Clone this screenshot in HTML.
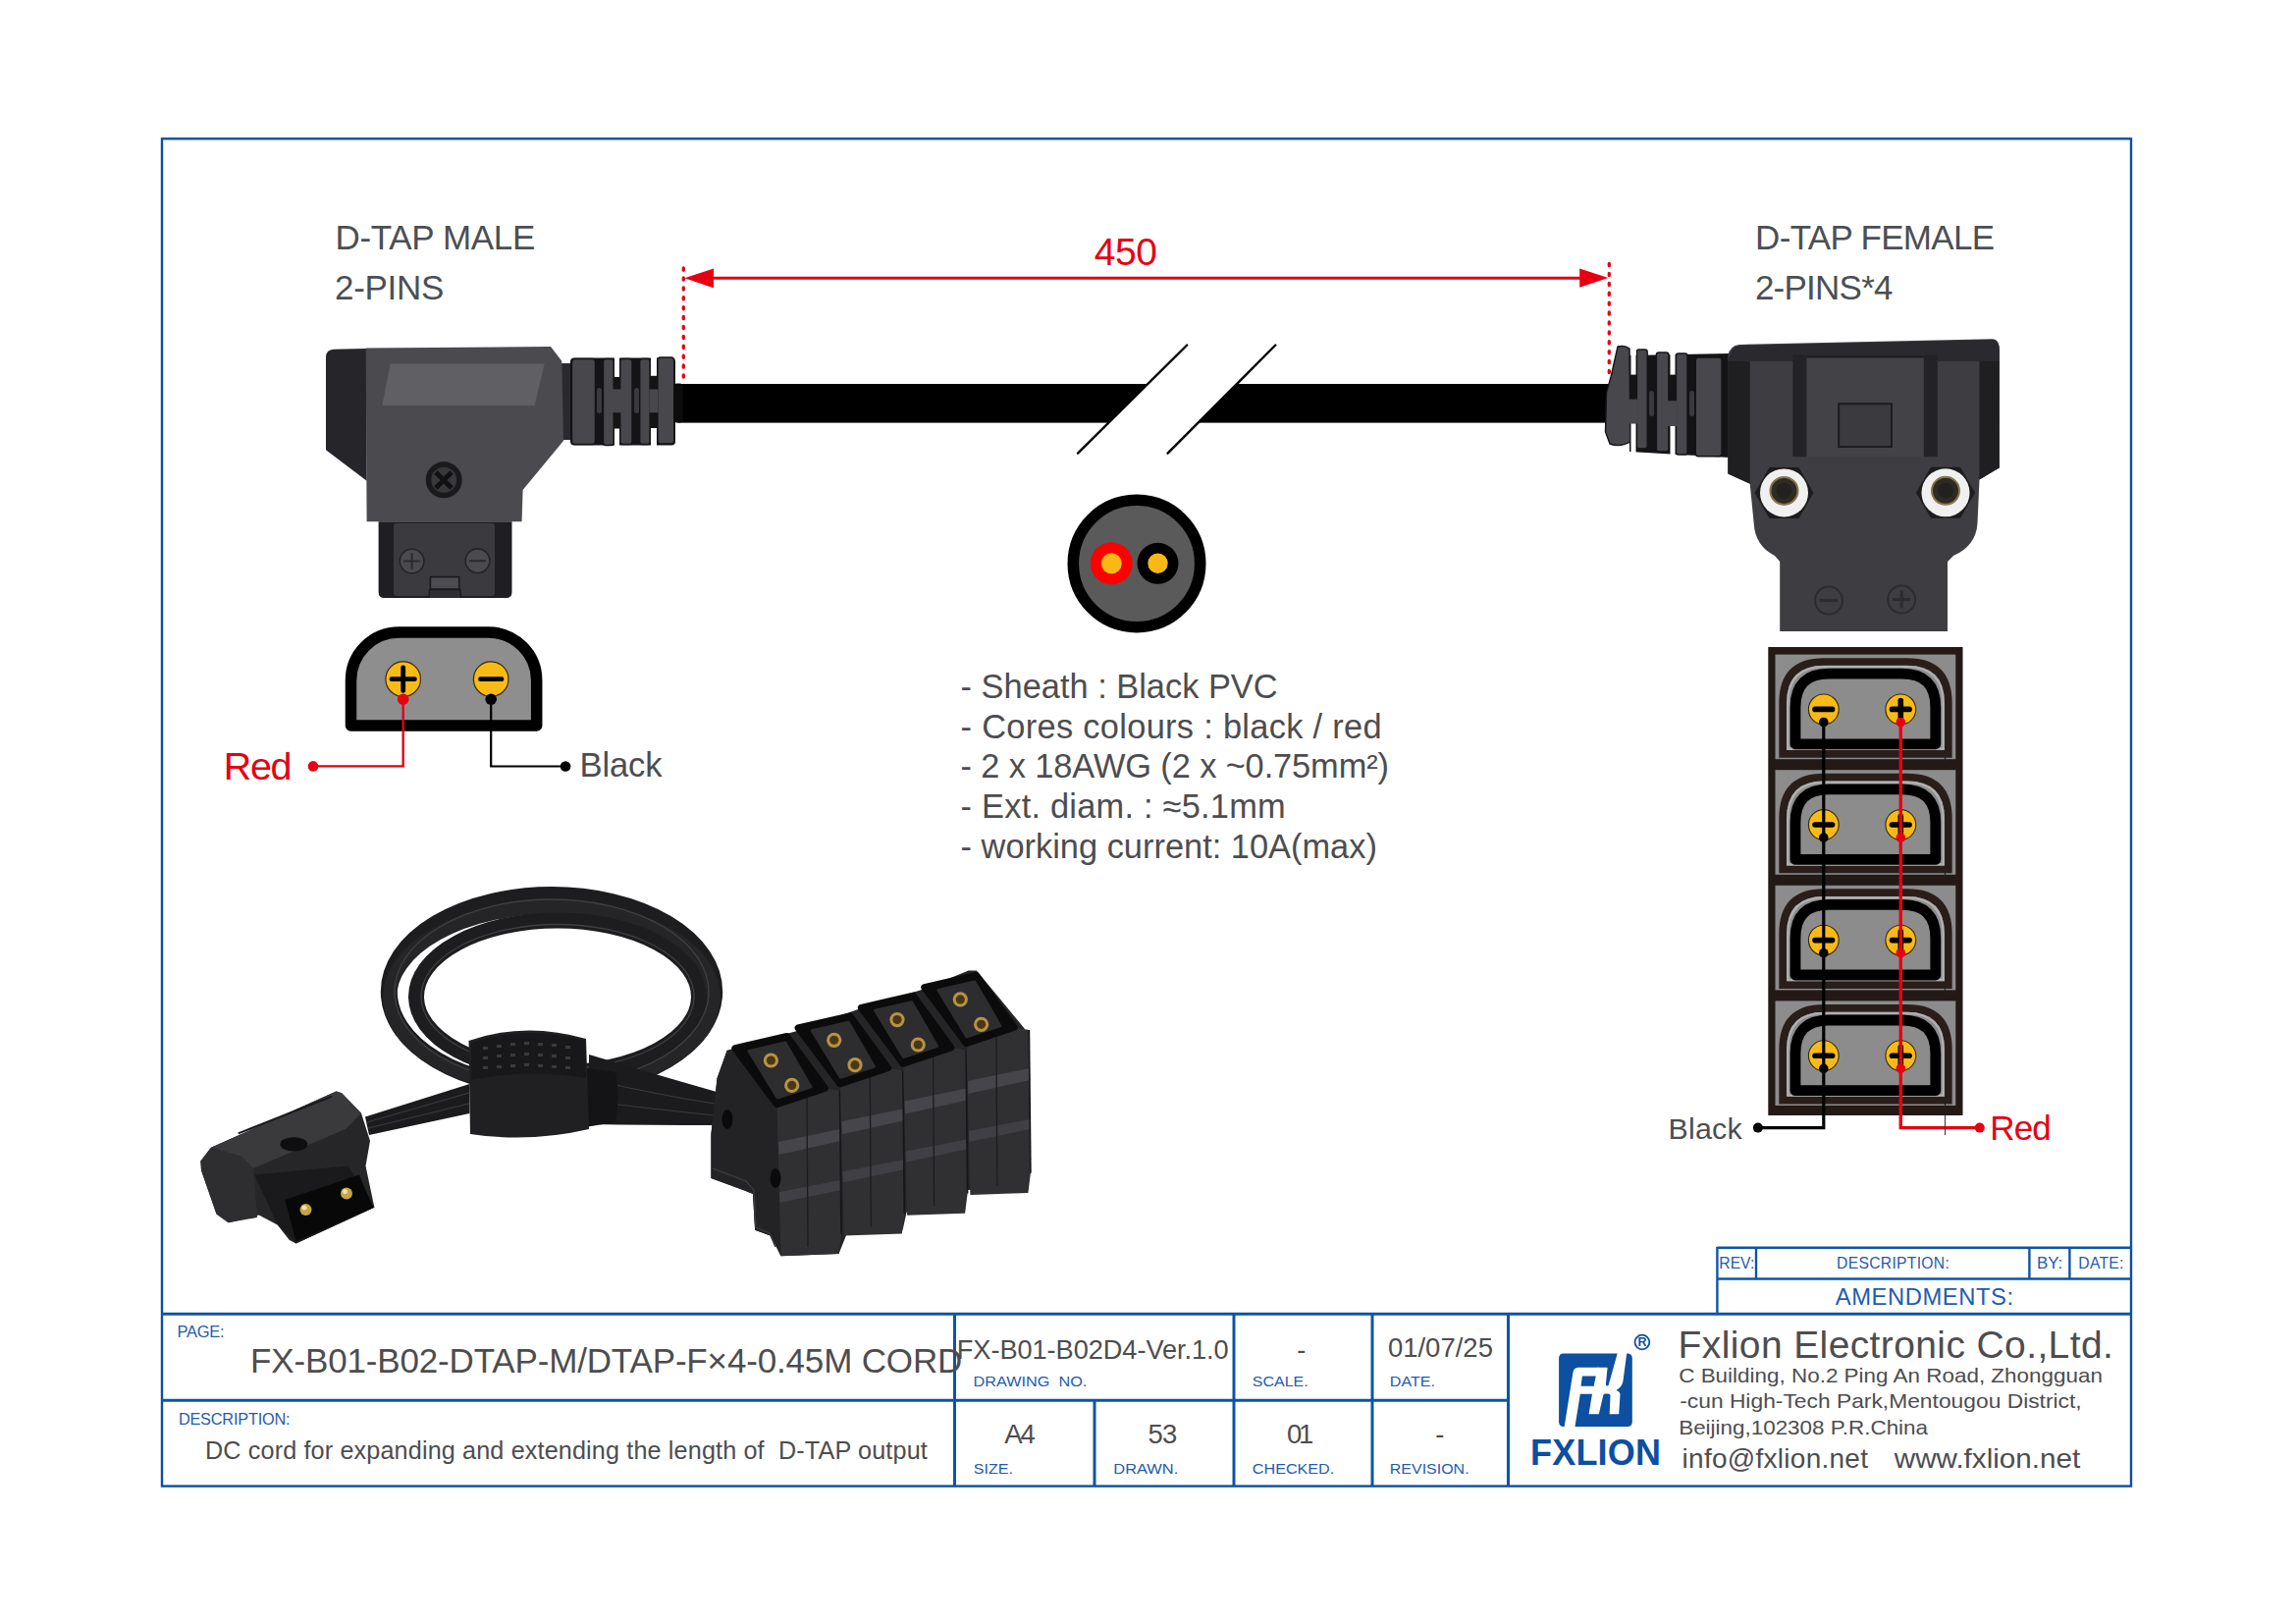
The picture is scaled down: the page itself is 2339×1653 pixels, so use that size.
<!DOCTYPE html>
<html><head><meta charset="utf-8">
<style>
html,body{margin:0;padding:0;background:#fff;}
body{width:2339px;height:1653px;overflow:hidden;position:relative;}
svg{position:absolute;left:0;top:0;}
text{font-family:"Liberation Sans",sans-serif;}
</style></head>
<body>
<svg width="2339" height="1653" viewBox="0 0 2339 1653">
<rect x="0" y="0" width="2339" height="1653" fill="#fff"/>
<!-- ===== FRAME ===== -->
<rect x="165" y="141.3" width="2006" height="1372.3" fill="none" stroke="#0c50a0" stroke-width="2.4"/>

<!-- ===== TITLE BLOCK ===== -->
<g fill="none" stroke="#0c55a6" stroke-width="3">
  <line x1="164" y1="1338.2" x2="2172" y2="1338.2"/>
  <line x1="164" y1="1426.2" x2="1537" y2="1426.2"/>
  <line x1="972.5" y1="1338" x2="972.5" y2="1514"/>
  <line x1="1115" y1="1426" x2="1115" y2="1514"/>
  <line x1="1257" y1="1338" x2="1257" y2="1514"/>
  <line x1="1398" y1="1338" x2="1398" y2="1514"/>
  <line x1="1536.5" y1="1338" x2="1536.5" y2="1514"/>
</g>
<g fill="none" stroke="#0c55a6" stroke-width="2.4">
  <line x1="1749.4" y1="1270.8" x2="2172" y2="1270.8"/>
  <line x1="1749.4" y1="1302.5" x2="2172" y2="1302.5"/>
  <line x1="1749.4" y1="1270" x2="1749.4" y2="1338"/>
  <line x1="1789" y1="1270" x2="1789" y2="1302.5"/>
  <line x1="2067.4" y1="1270" x2="2067.4" y2="1302.5"/>
  <line x1="2108.4" y1="1270" x2="2108.4" y2="1302.5"/>
</g>

<!-- FX logo -->
<g>
  <rect x="1588.1" y="1378.5" width="74.7" height="74.5" rx="4.5" fill="#0d4fa0"/>
  <path d="M1593.6,1453.5 L1604.4,1453.5 L1609.8,1419.8 L1626.1,1419.8 L1627.5,1411.7 L1610.5,1411.7 L1611.9,1401.5 L1626.2,1401.5 L1628.8,1392.7 L1607.6,1392.7 Q1603,1393 1602.4,1398 Z" fill="#fff"/>
  <path d="M1627.5,1392.7 L1637.6,1392.7 L1635.8,1410.5 Q1637,1412 1638.6,1411 L1647.8,1378 L1657.3,1378 L1653.4,1407 Q1652,1413 1646.4,1416.1 Q1650.5,1417.5 1650.5,1420.5 L1649.2,1440.2 L1639.7,1440.2 L1640.5,1421 Q1640,1419.5 1638.5,1419.5 L1635,1419.5 Q1633.6,1419.8 1633.3,1421 L1628.8,1440.2 L1618.6,1440.2 L1622,1419.5 Q1623,1417 1626.8,1416.1 Q1623.5,1414.5 1623.8,1411 Z" fill="#fff"/>
  <circle cx="1672.9" cy="1367" r="7.4" fill="none" stroke="#0d4fa0" stroke-width="1.8"/>
  <text x="1672.9" y="1371.3" font-size="12.5" font-weight="bold" fill="#0d4fa0" text-anchor="middle">R</text>
</g>

<!-- ===== DIMENSION ===== -->
<g stroke="#e60012" fill="none">
  <line x1="726" y1="283.3" x2="1610" y2="283.3" stroke-width="3"/>
</g>
<polygon points="697.3,283.3 727,273.4 727,293.2" fill="#e60012"/>
<polygon points="1638.4,283.1 1609.2,273.6 1609.2,292.8" fill="#e60012"/>

<!-- ===== CABLE ===== -->
<rect x="690" y="391" width="950" height="39.6" fill="#000"/>
<polygon points="1098,461.7 1209.2,351.5 1299.3,351.5 1189.6,461.7" fill="#fff"/>
<g stroke="#000" stroke-width="2.4" stroke-linecap="round">
  <line x1="1098" y1="461.7" x2="1209.2" y2="351.5"/>
  <line x1="1189.6" y1="461.7" x2="1299.3" y2="351.5"/>
</g>

<!-- ===== LEFT CONNECTOR (male) ===== -->
<g>
  <!-- strain relief -->
  <rect x="572" y="370" width="12" height="78" fill="#2a2a2e"/>
  <rect x="581" y="364.5" width="107" height="89" rx="4" fill="#141416"/>
  <rect x="608" y="395" width="5" height="26" rx="2.5" fill="#3a3a3e"/>
  <rect x="646" y="395" width="5" height="26" rx="2.5" fill="#3a3a3e"/>
  <g fill="#47474c" stroke="#141416" stroke-width="1.4">
    <rect x="582.5" y="365.5" width="24" height="87" rx="3"/>
    <rect x="614.5" y="365.5" width="10.7" height="88" rx="2.5"/>
    <rect x="631.7" y="365.5" width="12.3" height="87" rx="2.5"/>
    <rect x="651.7" y="365.5" width="10.4" height="87" rx="2.5"/>
    <rect x="669.9" y="364" width="16.8" height="88" rx="3"/>
  </g>
  <rect x="624" y="396.4" width="9" height="23.9" fill="#47474c"/>
  <rect x="661.4" y="396.4" width="9.2" height="23.9" fill="#47474c"/>
  <rect x="626" y="363" width="5" height="21" fill="#fff"/>
  <rect x="626" y="436.5" width="5" height="19" fill="#fff"/>
  <rect x="663" y="363" width="6" height="19.8" fill="#fff"/>
  <rect x="663" y="436" width="6" height="19" fill="#fff"/>
  <rect x="686.5" y="390.6" width="9" height="40" rx="3" fill="#0c0c0d"/>
  <!-- left side face -->
  <path d="M340,355.7 L373,355 L373.6,489.7 L332,458.3 L332,364 Q332,356 340,355.7 Z" fill="#26262a"/>
  <!-- main face -->
  <path d="M372.7,354.5 L561,353 L572.3,367.7 L574,449 L532.6,499 L531.6,531.3 L373.6,531.3 Z" fill="#4a4a4f"/>
  <!-- label -->
  <polygon points="397.6,370.5 554.8,370.5 544.6,413 389.3,413" fill="#5f5f64"/>
  <!-- screw -->
  <circle cx="452.2" cy="488.8" r="18.5" fill="#1a1a1c"/>
  <circle cx="452.2" cy="488.8" r="13" fill="#38383c"/>
  <path d="M444,481 L460,497 M460,481 L444,497" stroke="#111" stroke-width="5"/>
  <!-- plug -->
  <path d="M385.6,531.3 L521.5,531.3 L521.5,603 Q521.5,609 515.5,609 L391.6,609 Q385.6,609 385.6,603 Z" fill="#1f1f23"/>
  <rect x="401" y="533" width="103" height="74" rx="3" fill="#3a3a3f"/>
  <circle cx="419.6" cy="571.6" r="12.3" fill="#4a4a50" stroke="#242428" stroke-width="1.6"/>
  <circle cx="486.5" cy="571.2" r="12.3" fill="#4a4a50" stroke="#242428" stroke-width="1.6"/>
  <path d="M411,571.6 L428,571.6 M419.6,563 L419.6,580 M478,571.2 L495,571.2" stroke="#2a2a2e" stroke-width="2"/>
  <rect x="438.4" y="587.6" width="29.3" height="12.5" fill="#4c4c52" stroke="#1a1a1e" stroke-width="1.6"/>
  <path d="M437,609 L437.5,600.5 L469,600.5 L469.5,609" fill="#2e2e33" stroke="#1a1a1e" stroke-width="1.4"/>
</g>

<!-- ===== RIGHT CONNECTOR (female) ===== -->
<g>
  <!-- strain relief -->
  <path d="M1660,362 L1762,360 L1762,466 L1660,460 Z" fill="#141416"/>
  <rect x="1680" y="398" width="5" height="26" rx="2.5" fill="#3a3a3e"/>
  <rect x="1721" y="398" width="5" height="26" rx="2.5" fill="#3a3a3e"/>
  <g fill="#47474c" stroke="#141416" stroke-width="1.4">
    <path d="M1648,353 Q1655,351 1660,355 L1661,450 Q1650,456 1640,452 L1635.5,440 L1636.5,400 L1641,384 Z"/>
    <rect x="1667.4" y="356" width="10.8" height="101" rx="2.5"/>
    <rect x="1687.4" y="359" width="12.5" height="101" rx="2.5"/>
    <rect x="1707.4" y="360" width="11.6" height="103" rx="2.5"/>
    <rect x="1727.3" y="364" width="26.7" height="100.8" rx="3"/>
  </g>
  <rect x="1659" y="406.6" width="9.4" height="24.9" fill="#47474c"/>
  <rect x="1699" y="408.2" width="9.4" height="25.8" fill="#47474c"/>
  <rect x="1661.5" y="350" width="5" height="31.6" fill="#fff"/>
  <rect x="1661.5" y="431.5" width="5" height="36" fill="#fff"/>
  <rect x="1701.5" y="350" width="5" height="31.6" fill="#fff"/>
  <rect x="1701.5" y="434" width="5" height="36" fill="#fff"/>
  <!-- body -->
  <path d="M1760.3,362.5 Q1762,352 1772,351 L2030,345.2 Q2037,346 2037,356 L2036.8,476.4 L2016.5,488.6 L2014.5,533 Q2013,556 1990,566 L1984,572 L1984,643 L1813.2,643 L1813.2,572 L1808,566 Q1788,556 1786.7,533 L1782.7,492.7 L1760.3,482.5 Z" fill="#3e3e42"/>
  <path d="M1760.3,367.6 L1782.7,367.6 L1782.7,492.7 L1760.3,482.5 Z" fill="#1f1f22"/>
  <path d="M2016.5,367.6 L2036.8,367.6 L2036.8,476.4 L2016.5,488.6 Z" fill="#1f1f22"/>
  <path d="M1762,362 Q1764,353 1772,352 L2030,346 Q2036,347 2036.8,356 L2036.8,368 L1760.3,368 Z" fill="#2a2a2e"/>
  <rect x="1826.4" y="361.5" width="14.2" height="103.7" fill="#232326"/>
  <rect x="1959.6" y="361.5" width="14.2" height="103.7" fill="#232326"/>
  <rect x="1840.6" y="361.5" width="119" height="103.7" fill="#434347"/>
  <rect x="1840.6" y="361.5" width="119" height="3" fill="#1f1f22"/>
  <rect x="1873.2" y="411.3" width="53.8" height="43.7" fill="#3b3b3f" stroke="#1c1c1e" stroke-width="2"/>
  <!-- hex nuts -->
  <polygon points="1787.5,501.9 1802.5,475.9 1832.5,475.9 1847.5,501.9 1832.5,527.9 1802.5,527.9" fill="#1c1c1e"/>
  <circle cx="1817.5" cy="501.9" r="24.5" fill="#f0f0f0"/>
  <circle cx="1817.5" cy="499.9" r="14" fill="#2e2a24" stroke="#8a7448" stroke-width="2"/>
  <circle cx="1817.5" cy="499.9" r="8" fill="#232120"/>
  <polygon points="1952.0,501.8 1967.0,475.8 1997.0,475.8 2012.0,501.8 1997.0,527.8 1967.0,527.8" fill="#1c1c1e"/>
  <circle cx="1982" cy="501.8" r="24.5" fill="#f0f0f0"/>
  <circle cx="1982" cy="499.8" r="14" fill="#2e2a24" stroke="#8a7448" stroke-width="2"/>
  <circle cx="1982" cy="499.8" r="8" fill="#232120"/>
  <!-- lower symbols -->
  <circle cx="1863" cy="611.6" r="14" fill="none" stroke="#2c2c30" stroke-width="2"/>
  <line x1="1854" y1="611.6" x2="1872" y2="611.6" stroke="#2c2c30" stroke-width="3"/>
  <circle cx="1937.2" cy="610.6" r="14" fill="none" stroke="#2c2c30" stroke-width="2"/>
  <path d="M1928,610.6 L1946,610.6 M1937.2,601.6 L1937.2,619.6" stroke="#2c2c30" stroke-width="3"/>
</g>

<g stroke="#e60012" fill="none">
  <line x1="696.3" y1="273" x2="696.3" y2="386" stroke-width="3.3" stroke-dasharray="2.2 7.7" stroke-linecap="round"/>
  <line x1="1639.3" y1="268.5" x2="1639.3" y2="381" stroke-width="3.3" stroke-dasharray="2.2 7.7" stroke-linecap="round"/>
</g>
<!-- ===== MALE PIN DIAGRAM ===== -->
<g>
  <path d="M357.5,739 L357.5,693 A49,49 0 0 1 406.5,644 L497.7,644 A49,49 0 0 1 546.7,693 L546.7,739 Z" fill="#8e8e8e" stroke="#000" stroke-width="11.5" stroke-linejoin="round"/>
  <circle cx="410.7" cy="691.7" r="17.8" fill="#f8bb16" stroke="#3a2c00" stroke-width="1.2"/>
  <circle cx="500.2" cy="691.7" r="17.8" fill="#f8bb16" stroke="#3a2c00" stroke-width="1.2"/>
  <path d="M399,691.7 L422.4,691.7 M410.7,680 L410.7,703.4" stroke="#000" stroke-width="4.8" stroke-linecap="round"/>
  <path d="M489.5,691.7 L511,691.7" stroke="#000" stroke-width="4.8" stroke-linecap="round"/>
  <polyline points="410.7,712.2 410.7,780.4 319,780.4" fill="none" stroke="#e60012" stroke-width="2.4"/>
  <polyline points="500.2,712.2 500.2,780.5 576.1,780.5" fill="none" stroke="#000" stroke-width="2.2"/>
  <circle cx="410.7" cy="712.2" r="5.8" fill="#e60012"/>
  <circle cx="319" cy="780.4" r="5.3" fill="#e60012"/>
  <circle cx="500.2" cy="712.2" r="5.8" fill="#000"/>
  <circle cx="576.1" cy="780.5" r="5.3" fill="#000"/>
</g>

<!-- ===== CROSS SECTION ===== -->
<g>
  <circle cx="1158" cy="574" r="64.7" fill="#5a5a5a" stroke="#000" stroke-width="11.6"/>
  <circle cx="1132.3" cy="573.8" r="21.5" fill="#f00"/>
  <circle cx="1132.3" cy="573.8" r="10.5" fill="#f8b914"/>
  <circle cx="1179.5" cy="573.8" r="21" fill="#000"/>
  <circle cx="1179.5" cy="573.8" r="10.2" fill="#f8b914"/>
</g>

<!-- ===== FEMALE PIN STACK ===== -->
<g id="stack">
  <rect x="1801.3" y="659" width="198.2" height="477" fill="#231916"/>
  <!-- cells generated -->
  <rect x="1808.5" y="666.6" width="183.8" height="106.6" fill="#8c8c8c"/>
<path d="M1816.2,767.9 L1816.2,716.0 Q1816.2,674.0 1858.2,674.0 L1942.8,674.0 Q1984.8,674.0 1984.8,716.0 L1984.8,767.9 Z" fill="none" stroke="#2a1e1b" stroke-width="7.7"/>
<path d="M1821.3,762.8000000000001 L1821.3,716.1 Q1821.3,679.1 1858.3,679.1 L1942.7,679.1 Q1979.7,679.1 1979.7,716.1 L1979.7,762.8000000000001 Z" fill="none" stroke="#b0b0b0" stroke-width="2.4"/>
<path d="M1829,757.8000000000001 L1829,720.2 Q1829,686.2 1863,686.2 L1937.8,686.2 Q1971.8,686.2 1971.8,720.2 L1971.8,757.8000000000001 Z" fill="#8c8c8c" stroke="#000" stroke-width="10.8" stroke-linejoin="round"/>
<circle cx="1857.8" cy="722.4" r="15.4" fill="#f8bb16" stroke="#3a2c00" stroke-width="1.1"/>
<line x1="1849.0" y1="722.4" x2="1866.6" y2="722.4" stroke="#000" stroke-width="5.6" stroke-linecap="round"/>
<circle cx="1936.3" cy="722.4" r="15.4" fill="#f8bb16" stroke="#3a2c00" stroke-width="1.1"/>
<line x1="1927.5" y1="722.4" x2="1945.1" y2="722.4" stroke="#000" stroke-width="5.6" stroke-linecap="round"/>
<line x1="1936.3" y1="713.6" x2="1936.3" y2="731.2" stroke="#000" stroke-width="5.6" stroke-linecap="round"/>
<circle cx="1857.8" cy="735.5" r="4.8" fill="#000"/>
<circle cx="1936.3" cy="735.5" r="4.8" fill="#e60012"/>
<line x1="1981.5" y1="764.6" x2="1981.5" y2="776.6" stroke="#222" stroke-width="1.2"/>
<rect x="1808.5" y="784.2" width="183.8" height="106.6" fill="#8c8c8c"/>
<path d="M1816.2,885.5 L1816.2,833.6 Q1816.2,791.6 1858.2,791.6 L1942.8,791.6 Q1984.8,791.6 1984.8,833.6 L1984.8,885.5 Z" fill="none" stroke="#2a1e1b" stroke-width="7.7"/>
<path d="M1821.3,880.4000000000001 L1821.3,833.7 Q1821.3,796.7 1858.3,796.7 L1942.7,796.7 Q1979.7,796.7 1979.7,833.7 L1979.7,880.4000000000001 Z" fill="none" stroke="#b0b0b0" stroke-width="2.4"/>
<path d="M1829,875.4000000000001 L1829,837.8000000000001 Q1829,803.8000000000001 1863,803.8000000000001 L1937.8,803.8000000000001 Q1971.8,803.8000000000001 1971.8,837.8000000000001 L1971.8,875.4000000000001 Z" fill="#8c8c8c" stroke="#000" stroke-width="10.8" stroke-linejoin="round"/>
<circle cx="1857.8" cy="840.0" r="15.4" fill="#f8bb16" stroke="#3a2c00" stroke-width="1.1"/>
<line x1="1849.0" y1="840.0" x2="1866.6" y2="840.0" stroke="#000" stroke-width="5.6" stroke-linecap="round"/>
<circle cx="1936.3" cy="840.0" r="15.4" fill="#f8bb16" stroke="#3a2c00" stroke-width="1.1"/>
<line x1="1927.5" y1="840.0" x2="1945.1" y2="840.0" stroke="#000" stroke-width="5.6" stroke-linecap="round"/>
<line x1="1936.3" y1="831.2" x2="1936.3" y2="848.8" stroke="#000" stroke-width="5.6" stroke-linecap="round"/>
<circle cx="1857.8" cy="853.1" r="4.8" fill="#000"/>
<circle cx="1936.3" cy="853.1" r="4.8" fill="#e60012"/>
<line x1="1981.5" y1="882.2" x2="1981.5" y2="894.2" stroke="#222" stroke-width="1.2"/>
<rect x="1808.5" y="901.8" width="183.8" height="106.6" fill="#8c8c8c"/>
<path d="M1816.2,1003.0999999999999 L1816.2,951.1999999999999 Q1816.2,909.1999999999999 1858.2,909.1999999999999 L1942.8,909.1999999999999 Q1984.8,909.1999999999999 1984.8,951.1999999999999 L1984.8,1003.0999999999999 Z" fill="none" stroke="#2a1e1b" stroke-width="7.7"/>
<path d="M1821.3,998.0 L1821.3,951.3 Q1821.3,914.3 1858.3,914.3 L1942.7,914.3 Q1979.7,914.3 1979.7,951.3 L1979.7,998.0 Z" fill="none" stroke="#b0b0b0" stroke-width="2.4"/>
<path d="M1829,993.0 L1829,955.4 Q1829,921.4 1863,921.4 L1937.8,921.4 Q1971.8,921.4 1971.8,955.4 L1971.8,993.0 Z" fill="#8c8c8c" stroke="#000" stroke-width="10.8" stroke-linejoin="round"/>
<circle cx="1857.8" cy="957.6" r="15.4" fill="#f8bb16" stroke="#3a2c00" stroke-width="1.1"/>
<line x1="1849.0" y1="957.6" x2="1866.6" y2="957.6" stroke="#000" stroke-width="5.6" stroke-linecap="round"/>
<circle cx="1936.3" cy="957.6" r="15.4" fill="#f8bb16" stroke="#3a2c00" stroke-width="1.1"/>
<line x1="1927.5" y1="957.6" x2="1945.1" y2="957.6" stroke="#000" stroke-width="5.6" stroke-linecap="round"/>
<line x1="1936.3" y1="948.8" x2="1936.3" y2="966.4" stroke="#000" stroke-width="5.6" stroke-linecap="round"/>
<circle cx="1857.8" cy="970.7" r="4.8" fill="#000"/>
<circle cx="1936.3" cy="970.7" r="4.8" fill="#e60012"/>
<line x1="1981.5" y1="999.8" x2="1981.5" y2="1011.8" stroke="#222" stroke-width="1.2"/>
<rect x="1808.5" y="1019.4" width="183.8" height="106.6" fill="#8c8c8c"/>
<path d="M1816.2,1120.7 L1816.2,1068.8 Q1816.2,1026.8 1858.2,1026.8 L1942.8,1026.8 Q1984.8,1026.8 1984.8,1068.8 L1984.8,1120.7 Z" fill="none" stroke="#2a1e1b" stroke-width="7.7"/>
<path d="M1821.3,1115.6 L1821.3,1068.9 Q1821.3,1031.9 1858.3,1031.9 L1942.7,1031.9 Q1979.7,1031.9 1979.7,1068.9 L1979.7,1115.6 Z" fill="none" stroke="#b0b0b0" stroke-width="2.4"/>
<path d="M1829,1110.6 L1829,1073.0 Q1829,1039.0 1863,1039.0 L1937.8,1039.0 Q1971.8,1039.0 1971.8,1073.0 L1971.8,1110.6 Z" fill="#8c8c8c" stroke="#000" stroke-width="10.8" stroke-linejoin="round"/>
<circle cx="1857.8" cy="1075.2" r="15.4" fill="#f8bb16" stroke="#3a2c00" stroke-width="1.1"/>
<line x1="1849.0" y1="1075.2" x2="1866.6" y2="1075.2" stroke="#000" stroke-width="5.6" stroke-linecap="round"/>
<circle cx="1936.3" cy="1075.2" r="15.4" fill="#f8bb16" stroke="#3a2c00" stroke-width="1.1"/>
<line x1="1927.5" y1="1075.2" x2="1945.1" y2="1075.2" stroke="#000" stroke-width="5.6" stroke-linecap="round"/>
<line x1="1936.3" y1="1066.4" x2="1936.3" y2="1084.0" stroke="#000" stroke-width="5.6" stroke-linecap="round"/>
<circle cx="1857.8" cy="1088.3" r="4.8" fill="#000"/>
<circle cx="1936.3" cy="1088.3" r="4.8" fill="#e60012"/>
<line x1="1981.5" y1="1117.4" x2="1981.5" y2="1129.4" stroke="#222" stroke-width="1.2"/>
  <polyline points="1857.8,735.5 1857.8,1148.6 1790.9,1148.6" fill="none" stroke="#000" stroke-width="3.2"/>
  <polyline points="1936.3,735.5 1936.3,1148.6 2016.8,1148.6" fill="none" stroke="#e60012" stroke-width="3.4"/>
  <circle cx="1790.9" cy="1148.6" r="5" fill="#000"/>
  <circle cx="2016.8" cy="1148.6" r="5" fill="#e60012"/>
  <line x1="1981.5" y1="1136" x2="1981.5" y2="1156" stroke="#333" stroke-width="1"/>
</g>

<!-- ===== PHOTO ===== -->
<g id="photo">
  <!-- cable loop -->
<ellipse cx="562" cy="1010" rx="165.7" ry="98.4" fill="none" stroke="#1d1d1f" stroke-width="17"/>
<ellipse cx="562" cy="1016" rx="165" ry="92" fill="none" stroke="#252527" stroke-width="14"/>
<ellipse cx="568" cy="1015" rx="144" ry="77.5" fill="none" stroke="#1d1d1f" stroke-width="16"/>
<ellipse cx="562" cy="1010" rx="160" ry="94" fill="none" stroke="#404044" stroke-width="1.3"/>
<ellipse cx="568" cy="1015" rx="139" ry="73.5" fill="none" stroke="#404044" stroke-width="1.3"/>
<!-- cables to male connector -->
<path d="M372,1137.5 L478.4,1104 L478.4,1134 L376,1156 Z" fill="#1b1b1d"/>
<path d="M374,1143 L478,1113 M375,1149 L478,1124" stroke="#3c3c40" stroke-width="1.2"/>
<!-- cables to female block -->
<path d="M600,1074 Q660,1092 730,1112 L730,1146 Q660,1146 600,1145 Z" fill="#1b1b1d"/>
<path d="M605,1100 Q670,1115 728,1124 M605,1122 Q670,1130 728,1136" stroke="#3c3c40" stroke-width="1.2" fill="none"/>
<!-- velcro strap -->
<path d="M596,1088 L627,1092 Q632,1118 627,1143 L596,1148 Z" fill="#141416"/>
<path d="M477.5,1060 Q535,1040 597,1058 L600,1150 Q540,1164 479,1155 Z" fill="#202022"/>
<path d="M480,1062 Q535,1043 596,1060 L597,1098 Q540,1088 480,1100 Z" fill="#18181a"/>
<g fill="#3a3a3e">
  <rect x="492" y="1066" width="5" height="3"/><rect x="506" y="1064" width="5" height="3"/><rect x="520" y="1062" width="5" height="3"/><rect x="534" y="1061" width="5" height="3"/><rect x="548" y="1062" width="5" height="3"/><rect x="562" y="1063" width="5" height="3"/><rect x="576" y="1065" width="5" height="3"/>
  <rect x="492" y="1076" width="5" height="3"/><rect x="506" y="1074" width="5" height="3"/><rect x="520" y="1073" width="5" height="3"/><rect x="534" y="1072" width="5" height="3"/><rect x="548" y="1073" width="5" height="3"/><rect x="562" y="1074" width="5" height="3"/><rect x="576" y="1076" width="5" height="3"/>
  <rect x="492" y="1086" width="5" height="3"/><rect x="506" y="1085" width="5" height="3"/><rect x="520" y="1084" width="5" height="3"/><rect x="534" y="1083" width="5" height="3"/><rect x="548" y="1084" width="5" height="3"/><rect x="562" y="1085" width="5" height="3"/><rect x="576" y="1086" width="5" height="3"/>
</g>

<!-- male connector (photo) -->
<path d="M204.4,1182.6 L215,1168.8 L342.5,1111.6 L348.1,1113.3 L368,1133.8 L377,1162.1 L372.5,1187.6 L381.4,1229.8 L301.5,1266.4 L294.8,1263 L282.6,1247.5 L263.8,1237.5 L232.7,1245.3 L220.5,1236.4 L205,1192 Z" fill="#262628"/>
<path d="M215,1168.8 L342.5,1111.6 L348.1,1113.3 L368,1133.8 L352,1150 L258,1190 L246,1178 Z" fill="#3a3a3d"/>
<path d="M204.4,1182.6 L215,1168.8 L246,1178 L258,1190 L262,1240 L232.7,1245.3 L220.5,1236.4 L205,1192 Z" fill="#2e2e31"/>
<path d="M242.7,1154.4 L338.1,1116.6" stroke="#1a1a1c" stroke-width="2"/>
<ellipse cx="299.3" cy="1165.4" rx="13.9" ry="7.2" fill="#0e0e10"/>
<path d="M259.3,1196.5 L354.7,1187.6 L381.4,1229.8 L301.5,1266.4 L282,1246 Z" fill="#1a1a1c"/>
<path d="M290.4,1222 L365.8,1196.5 L380.2,1229.8 L301.5,1264.2 Z" fill="#080809"/>
<circle cx="311.5" cy="1232" r="6" fill="#c9a24a"/>
<circle cx="310" cy="1230" r="2.5" fill="#f3e2a0"/>
<circle cx="353" cy="1215.4" r="6" fill="#c9a24a"/>
<circle cx="351.5" cy="1213.4" r="2.5" fill="#f3e2a0"/>

<!-- female block (photo) -->
<!-- overall silhouette -->
<path d="M740.7,1069.8 L813.8,1049.4 L876.9,1027 L939.9,1007.8 L986.6,988.5 L994.8,988.5 L1043.6,1047.4 L1045.6,1100.3 L1045.6,1199.9 L1033.4,1210 L984.6,1212 L976.5,1230.4 L923.6,1234.4 L919.6,1252.7 L862.6,1256.8 L854.5,1277.1 L795.5,1279.2 L785.4,1258.8 L769.1,1252.7 L767,1216 L757,1212 L724.4,1199.9 L724.4,1155.2 L730.5,1098.2 Z" fill="#252527"/>
<!-- left end face -->
<path d="M740.7,1069.8 L791.5,1124.7 L795.5,1279.2 L785.4,1258.8 L769.1,1252.7 L767,1216 L757,1212 L724.4,1199.9 L724.4,1155.2 L730.5,1098.2 Z" fill="#232325"/>
<path d="M726,1190 L760,1203 L768,1212 L770,1250 L784,1256 L790,1270" fill="none" stroke="#38383b" stroke-width="1.5"/>
<g id="fm">
  <path d="M791.5,1124.7 L840.3,1108.4 L855.5,1111 L857,1256.8 L854.5,1277.1 L795.5,1279.2 Z" fill="#303033"/>
  <path d="M793,1163 L856,1150 L856.5,1162 L793.5,1176 Z" fill="#46464a"/>
  <path d="M794,1214 L856,1202 L856.5,1212 L794.5,1225 Z" fill="#404044"/>
  <path d="M822,1118 L823,1270" stroke="#1c1c1e" stroke-width="1.3"/>
  <path d="M855.5,1111 L857,1256.8" stroke="#161618" stroke-width="1.6"/>
  <path d="M748.8,1067.7 L801.6,1055.5 L840.3,1108.4 L791.5,1124.7 Z" fill="#0b0b0c" stroke="#0b0b0c" stroke-width="7" stroke-linejoin="round"/>
  <path d="M763,1070.5 L800,1062 L826,1107 L792,1118 Z" fill="#2d2d30" stroke="#2d2d30" stroke-width="3" stroke-linejoin="round"/>
  <circle cx="785.4" cy="1080" r="7.6" fill="#b89246"/>
  <circle cx="785.4" cy="1080" r="4.6" fill="#4a3714"/>
  <circle cx="806.7" cy="1105.4" r="7.6" fill="#b89246"/>
  <circle cx="806.7" cy="1105.4" r="4.6" fill="#4a3714"/>
</g>
<use href="#fm" transform="translate(64.3,-20.7)"/>
<use href="#fm" transform="translate(128.6,-41.4)"/>
<use href="#fm" transform="translate(192.9,-62.1)"/>
<!-- side screws -->
<ellipse cx="741" cy="1140" rx="5.5" ry="10" fill="#0a0a0a"/>
<ellipse cx="790" cy="1200" rx="5.5" ry="10" fill="#0a0a0a"/>

</g>

<g>
<text x="341.50" y="254" font-size="35" fill="#4b4f54" textLength="203.74" lengthAdjust="spacing" xml:space="preserve">D-TAP MALE</text>
<text x="341.00" y="304.8" font-size="35" fill="#4b4f54" textLength="111.34" lengthAdjust="spacing" xml:space="preserve">2-PINS</text>
<text x="1788.10" y="253.8" font-size="35" fill="#4b4f54" textLength="244.04" lengthAdjust="spacing" xml:space="preserve">D-TAP FEMALE</text>
<text x="1787.90" y="304.8" font-size="35" fill="#4b4f54" textLength="140.57" lengthAdjust="spacing" xml:space="preserve">2-PINS*4</text>
<text x="1114.80" y="269.9" font-size="39" fill="#e60012" textLength="64.09" lengthAdjust="spacing" xml:space="preserve">450</text>
<text x="227.70" y="793.9" font-size="39.5" fill="#e60012" textLength="69.77" lengthAdjust="spacing" xml:space="preserve">Red</text>
<text x="590.60" y="790.7" font-size="34.6" fill="#4d4d4f" textLength="83.89" lengthAdjust="spacing" xml:space="preserve">Black</text>
<text x="1699.60" y="1159.6" font-size="30.4" fill="#4d4d4f" textLength="75.00" lengthAdjust="spacing" xml:space="preserve">Black</text>
<text x="2027.30" y="1161" font-size="35" fill="#e60012" textLength="62.37" lengthAdjust="spacing" xml:space="preserve">Red</text>
<text x="978.60" y="711.1" font-size="34.4" fill="#4d4d4f" xml:space="preserve">- Sheath : Black PVC</text>
<text x="978.60" y="751.6" font-size="34.4" fill="#4d4d4f" textLength="429.03" lengthAdjust="spacing" xml:space="preserve">- Cores colours : black / red</text>
<text x="978.60" y="792.1" font-size="34.4" fill="#4d4d4f" textLength="436.35" lengthAdjust="spacing" xml:space="preserve">- 2 x 18AWG (2 x ~0.75mm²)</text>
<text x="978.60" y="833.3" font-size="34.4" fill="#4d4d4f" textLength="331.15" lengthAdjust="spacing" xml:space="preserve">- Ext. diam. : ≈5.1mm</text>
<text x="978.60" y="874.3" font-size="34.4" fill="#4d4d4f" xml:space="preserve">- working current: 10A(max)</text>
<text x="180.60" y="1361.8" font-size="16.5" fill="#1f5cb0" textLength="47.98" lengthAdjust="spacing" xml:space="preserve">PAGE:</text>
<text x="181.90" y="1450.9" font-size="16.3" fill="#1f5cb0" textLength="113.62" lengthAdjust="spacing" xml:space="preserve">DESCRIPTION:</text>
<text x="255.10" y="1398" font-size="35" fill="#4d4d4f" textLength="725.18" lengthAdjust="spacing" xml:space="preserve">FX-B01-B02-DTAP-M/DTAP-F×4-0.45M CORD</text>
<text x="209.00" y="1486" font-size="25.2" fill="#4d4d4f" textLength="735.80" lengthAdjust="spacing" xml:space="preserve">DC cord for expanding and extending the length of  D-TAP output</text>
<text x="974.80" y="1383.9" font-size="27.2" fill="#4d4d4f" textLength="276.92" lengthAdjust="spacing" xml:space="preserve">FX-B01-B02D4-Ver.1.0</text>
<text x="991.50" y="1411.6" font-size="15.4" fill="#1f5cb0" textLength="115.78" lengthAdjust="spacingAndGlyphs" xml:space="preserve">DRAWING  NO.</text>
<text x="1321.20" y="1383.9" font-size="27.2" fill="#4d4d4f" xml:space="preserve">-</text>
<text x="1275.80" y="1411.7" font-size="15.4" fill="#1f5cb0" textLength="56.88" lengthAdjust="spacingAndGlyphs" xml:space="preserve">SCALE.</text>
<text x="1413.90" y="1381.6" font-size="27.5" fill="#4d4d4f" xml:space="preserve">01/07/25</text>
<text x="1415.80" y="1411.7" font-size="15.4" fill="#1f5cb0" textLength="46.18" lengthAdjust="spacingAndGlyphs" xml:space="preserve">DATE.</text>
<text x="1023.30" y="1469.9" font-size="27.5" fill="#4d4d4f" textLength="31.59" lengthAdjust="spacing" xml:space="preserve">A4</text>
<text x="1169.50" y="1469.9" font-size="27.5" fill="#4d4d4f" textLength="29.79" lengthAdjust="spacing" xml:space="preserve">53</text>
<text x="1310.90" y="1469.9" font-size="27.5" fill="#4d4d4f" textLength="27.39" lengthAdjust="spacing" xml:space="preserve">01</text>
<text x="1462.20" y="1469.9" font-size="27.5" fill="#4d4d4f" xml:space="preserve">-</text>
<text x="991.80" y="1500.8" font-size="15.4" fill="#1f5cb0" textLength="40.23" lengthAdjust="spacingAndGlyphs" xml:space="preserve">SIZE.</text>
<text x="1134.30" y="1500.8" font-size="15.4" fill="#1f5cb0" textLength="65.98" lengthAdjust="spacingAndGlyphs" xml:space="preserve">DRAWN.</text>
<text x="1275.80" y="1500.8" font-size="15.4" fill="#1f5cb0" textLength="83.48" lengthAdjust="spacingAndGlyphs" xml:space="preserve">CHECKED.</text>
<text x="1415.80" y="1500.8" font-size="15.4" fill="#1f5cb0" textLength="80.78" lengthAdjust="spacingAndGlyphs" xml:space="preserve">REVISION.</text>
<text x="1751.30" y="1292" font-size="15.7" fill="#1f5cb0" xml:space="preserve">REV:</text>
<text x="1871.00" y="1292" font-size="15.7" fill="#1f5cb0" textLength="114.76" lengthAdjust="spacing" xml:space="preserve">DESCRIPTION:</text>
<text x="2074.90" y="1292" font-size="15.7" fill="#1f5cb0" textLength="26.46" lengthAdjust="spacingAndGlyphs" xml:space="preserve">BY:</text>
<text x="2117.30" y="1292" font-size="15.7" fill="#1f5cb0" textLength="46.06" lengthAdjust="spacing" xml:space="preserve">DATE:</text>
<text x="1869.80" y="1328.8" font-size="23.8" fill="#1f5cb0" textLength="181.31" lengthAdjust="spacing" xml:space="preserve">AMENDMENTS:</text>
<text x="1709.60" y="1383.2" font-size="39" fill="#4d4d4f" textLength="443.24" lengthAdjust="spacing" xml:space="preserve">Fxlion Electronic Co.,Ltd.</text>
<text x="1710.20" y="1407.8" font-size="20.6" fill="#4d4d4f" textLength="431.75" lengthAdjust="spacingAndGlyphs" xml:space="preserve">C Building, No.2 Ping An Road, Zhongguan</text>
<text x="1711.20" y="1434.1" font-size="20.6" fill="#4d4d4f" textLength="409.52" lengthAdjust="spacingAndGlyphs" xml:space="preserve">-cun High-Tech Park,Mentougou District,</text>
<text x="1710.20" y="1461" font-size="20.6" fill="#4d4d4f" textLength="253.85" lengthAdjust="spacingAndGlyphs" xml:space="preserve">Beijing,102308 P.R.China</text>
<text x="1713.60" y="1494.8" font-size="28" fill="#4d4d4f" textLength="189.38" lengthAdjust="spacing" xml:space="preserve">info@fxlion.net</text>
<text x="1929.80" y="1494.8" font-size="28" fill="#4d4d4f" textLength="189.48" lengthAdjust="spacingAndGlyphs" xml:space="preserve">www.fxlion.net</text>
<text x="1559.00" y="1491.6" font-size="36" fill="#0d4fa0" font-weight="bold" textLength="133.00" lengthAdjust="spacing" xml:space="preserve">FXLION</text>
</g>
</svg>
</body></html>
